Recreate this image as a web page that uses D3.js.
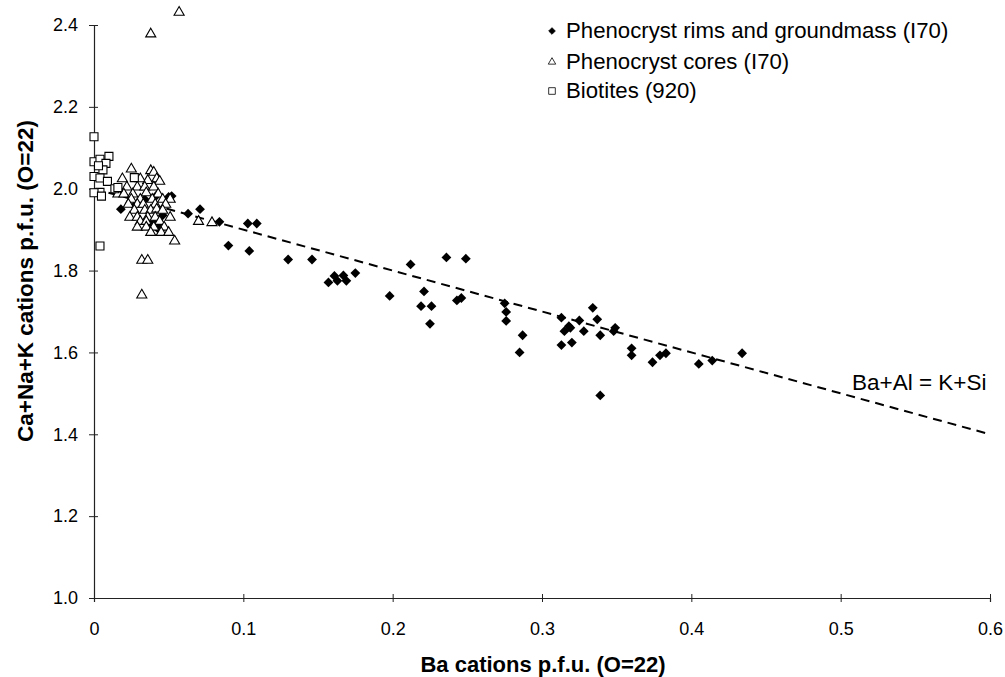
<!DOCTYPE html>
<html>
<head>
<meta charset="utf-8">
<script src="https://cdn.jsdelivr.net/npm/d3@7"></script>
<style>
  body { margin: 0; background: #fff; }
  svg { font-family: Arial, "Liberation Sans", sans-serif; }
</style>
</head>
<body>
<div id="chart"></div>
<script>
// Data: [Ba, Ca+Na+K]
const rims = [
  [0.018,1.950],[0.042,1.984],[0.039,1.921],[0.043,1.913],[0.044,1.898],[0.050,1.980],
  [0.052,1.982],[0.034,1.974],[0.027,1.958],[0.046,1.935],[0.038,1.906],
  [0.063,1.939],[0.071,1.950],[0.084,1.919],[0.090,1.861],[0.103,1.915],[0.109,1.915],
  [0.104,1.848],[0.130,1.827],[0.146,1.827],[0.157,1.771],[0.161,1.787],[0.163,1.775],
  [0.167,1.788],[0.169,1.775],[0.175,1.794],[0.198,1.738],[0.212,1.815],[0.221,1.749],
  [0.219,1.713],[0.226,1.713],[0.225,1.670],[0.236,1.832],[0.249,1.829],[0.243,1.727],
  [0.246,1.733],[0.275,1.720],[0.276,1.699],[0.276,1.677],[0.287,1.642],[0.285,1.600],
  [0.313,1.685],[0.315,1.652],[0.318,1.664],[0.319,1.660],[0.313,1.618],[0.320,1.624],
  [0.325,1.678],[0.328,1.652],[0.334,1.709],[0.337,1.681],[0.339,1.642],[0.348,1.652],
  [0.349,1.660],[0.339,1.495],[0.360,1.610],[0.360,1.593],[0.374,1.576],[0.379,1.593],
  [0.383,1.598],[0.405,1.572],[0.414,1.580],[0.434,1.598]
];
const cores = [
  [0.025,2.048],[0.038,2.044],[0.040,2.040],
  [0.019,2.024],[0.031,2.024],[0.036,2.020],[0.042,2.024],[0.044,2.018],
  [0.022,2.004],[0.029,2.004],[0.034,2.004],[0.040,2.004],
  [0.016,1.987],[0.020,1.987],[0.026,1.987],[0.035,1.990],[0.043,1.987],
  [0.025,1.974],[0.031,1.974],[0.039,1.974],[0.046,1.974],[0.051,1.974],
  [0.023,1.962],[0.029,1.962],[0.033,1.962],[0.041,1.962],[0.048,1.962],
  [0.027,1.947],[0.034,1.947],[0.038,1.947],[0.042,1.950],[0.046,1.947],
  [0.024,1.930],[0.029,1.930],[0.036,1.930],[0.041,1.930],[0.051,1.930],
  [0.031,1.920],[0.035,1.920],[0.044,1.920],[0.070,1.920],[0.079,1.917],
  [0.029,1.906],[0.035,1.906],[0.040,1.906],[0.047,1.906],
  [0.038,1.893],[0.045,1.893],[0.050,1.893],
  [0.054,1.872],
  [0.038,2.378],[0.057,2.431],[0.032,1.825],[0.036,1.825],[0.032,1.740]
];
const biotites = [
  [0.000,2.127],[0.000,2.066],[0.004,2.072],[0.010,2.079],[0.008,2.062],[0.006,2.046],
  [0.003,2.056],[0.000,2.030],[0.004,2.026],[0.009,2.018],[0.027,2.027],[0.014,2.000],
  [0.016,2.003],[0.004,1.991],[0.000,1.990],[0.005,1.982],[0.004,1.860]
];
// Ba+Al = K+Si substitution line
const lineBa = [0, 0.6];
const lineSum = [2.0, 1.4];

const xTicks = [0, 0.1, 0.2, 0.3, 0.4, 0.5, 0.6];
const yTicks = [1.0, 1.2, 1.4, 1.6, 1.8, 2.0, 2.2, 2.4];
const legendLabels = ["Phenocryst rims and groundmass (I70)", "Phenocryst cores (I70)", "Biotites (920)"];

const width = 1005, height = 677;
const svg = d3.select('#chart').append('svg')
  .attr('width', width).attr('height', height);

const x = d3.scaleLinear().domain([0, 0.6]).range([94, 990]);
const y = d3.scaleLinear().domain([1.0, 2.4]).range([598, 25]);

// Axes with crossing ticks
const xAxis = svg.append('g')
  .attr('transform', `translate(0,${y(1.0)})`)
  .call(d3.axisBottom(x).tickValues(xTicks).tickSize(4).tickPadding(20)
    .tickFormat(d => d === 0 ? '0' : d3.format('.1f')(d)));
xAxis.selectAll('.tick line').attr('y1', -4).attr('y2', 4);

const yAxis = svg.append('g')
  .attr('transform', `translate(${x(0)},0)`)
  .call(d3.axisLeft(y).tickValues(yTicks).tickSize(5).tickPadding(11)
    .tickFormat(d3.format('.1f')));
yAxis.selectAll('.tick line').attr('x1', -5).attr('x2', 4);

svg.selectAll('.domain').attr('stroke', '#222').attr('stroke-width', 1.2);
svg.selectAll('.tick line').attr('stroke', '#222');
svg.selectAll('.tick text').attr('font-size', 18).attr('fill', '#000')
  .attr('font-family', 'Arial, "Liberation Sans", sans-serif');

// Axis titles
svg.append('text')
  .attr('x', 543).attr('y', 672)
  .attr('text-anchor', 'middle')
  .attr('font-size', 22).attr('font-weight', 'bold')
  .text('Ba cations p.f.u. (O=22)');
svg.append('text')
  .attr('transform', 'translate(33,281) rotate(-90)')
  .attr('text-anchor', 'middle')
  .attr('font-size', 22.5).attr('font-weight', 'bold')
  .text('Ca+Na+K cations p.f.u. (O=22)');

// Reference line
svg.append('path')
  .datum(d3.zip(lineBa, lineSum))
  .attr('d', d3.line().x(d => x(d[0])).y(d => y(d[1])))
  .attr('fill', 'none').attr('stroke', '#000')
  .attr('stroke-width', 2).attr('stroke-dasharray', '9,6');
svg.append('text')
  .attr('x', 852).attr('y', 390)
  .attr('font-size', 22.5)
  .text('Ba+Al = K+Si');

// Symbols
const diamond = d3.symbol().type(d3.symbolSquare).size(48);
const triangle = d3.symbol().type(d3.symbolTriangle).size(44);
const square = d3.symbol().type(d3.symbolSquare).size(64);

svg.append('g').selectAll('path')
  .data(rims).join('path')
  .attr('d', diamond)
  .attr('transform', d => `translate(${x(d[0])},${y(d[1])}) rotate(45)`)
  .attr('fill', '#000');

svg.append('g').selectAll('path')
  .data(cores).join('path')
  .attr('d', triangle)
  .attr('transform', d => `translate(${x(d[0])},${y(d[1])})`)
  .attr('fill', '#fff').attr('stroke', '#000').attr('stroke-width', 1.1);

svg.append('g').selectAll('path')
  .data(biotites).join('path')
  .attr('d', square)
  .attr('transform', d => `translate(${x(d[0])},${y(d[1])})`)
  .attr('fill', '#fff').attr('stroke', '#000').attr('stroke-width', 1.1);

// Legend
const legendSymbols = [
  {sym: d3.symbol().type(d3.symbolSquare).size(22), rot: 45, fill: '#000'},
  {sym: d3.symbol().type(d3.symbolTriangle).size(24), rot: 0, fill: '#fff'},
  {sym: d3.symbol().type(d3.symbolSquare).size(44), rot: 0, fill: '#fff'}
];
const legend = svg.append('g').attr('transform', 'translate(552,0)');
const rows = legend.selectAll('g').data(legendLabels).join('g')
  .attr('transform', (d, i) => `translate(0,${[31, 62, 91][i]})`);
rows.append('path')
  .attr('d', (d, i) => legendSymbols[i].sym())
  .attr('transform', (d, i) => `rotate(${legendSymbols[i].rot})`)
  .attr('fill', (d, i) => legendSymbols[i].fill)
  .attr('stroke', '#000').attr('stroke-width', 0.8);
rows.append('text')
  .attr('x', 14).attr('y', 7)
  .attr('font-size', 22.2)
  .text(d => d);
</script>
</body>
</html>
